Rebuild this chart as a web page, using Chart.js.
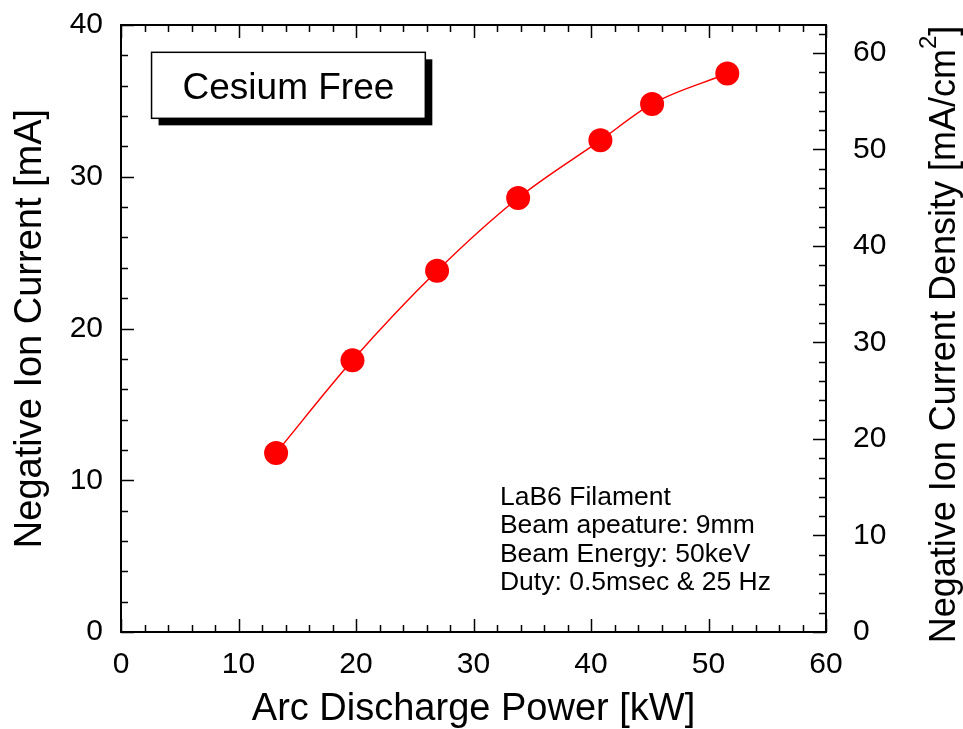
<!DOCTYPE html>
<html>
<head>
<meta charset="utf-8">
<script src="https://cdn.jsdelivr.net/npm/chart.js@4/dist/chart.umd.min.js"></script>
<style>
  html, body { margin: 0; padding: 0; background: #fff; }
  #wrap { width: 963px; height: 729px; position: relative; }
</style>
</head>
<body>
<div id="wrap"><canvas id="chart"></canvas></div>
<script>
// measured points: arc power [kW] vs negative ion current [mA]
const powerKW = [13.2, 19.7, 26.9, 33.8, 40.8, 45.2, 51.6];
const currentMA = [11.8, 17.9, 23.8, 28.6, 32.4, 34.8, 36.8];

const xTicks = [0, 10, 20, 30, 40, 50, 60];
const yTicks = [0, 10, 20, 30, 40];
const yRightTicks = [0, 10, 20, 30, 40, 50, 60];
const yRightMax = 62.9; // 40 mA over 9mm aperture area

const noteLines = ['LaB6 Filament', 'Beam apeature: 9mm', 'Beam Energy: 50keV', 'Duty: 0.5msec & 25 Hz'];

const FONT = "'Liberation Sans', Arial, Helvetica, sans-serif";
const RED = '#ff0000';

const setTicks = (vals) => (scale) => { scale.ticks = vals.map((v) => ({ value: v })); };
// fixed box size, no extra label overhang padding
const fitBox = (w, h) => (s) => {
  if (w != null) s.width = w;
  if (h != null) s.height = h;
  s.paddingTop = 0; s.paddingBottom = 0; s.paddingLeft = 0; s.paddingRight = 0;
};

const framePlugin = {
  id: 'frame',
  afterDraw(chart) {
    const { ctx, chartArea: a, scales } = chart;
    const x = scales.x, y = scales.y, yR = scales.yR;
    ctx.save();
    ctx.strokeStyle = '#000';
    ctx.lineWidth = 1.5;
    ctx.beginPath();
    // x ticks, bottom and top, pointing inward
    for (let v = 0; v <= 60; v += 2) {
      const px = Math.round(x.getPixelForValue(v)) + 0.5;
      const len = v % 10 === 0 ? 13 : 7;
      ctx.moveTo(px, a.bottom); ctx.lineTo(px, a.bottom - len);
      ctx.moveTo(px, a.top); ctx.lineTo(px, a.top + len);
    }
    for (let v = 0; v <= 40; v += 2) {
      const py = Math.round(y.getPixelForValue(v)) + 0.5;
      const len = v % 10 === 0 ? 13 : 7;
      ctx.moveTo(a.left, py); ctx.lineTo(a.left + len, py);
    }
    for (let v = 0; v <= yRightMax; v += 2) {
      const py = Math.round(yR.getPixelForValue(v)) + 0.5;
      const len = v % 10 === 0 ? 13 : 7;
      ctx.moveTo(a.right, py); ctx.lineTo(a.right - len, py);
    }
    ctx.stroke();

    ctx.lineWidth = 2;
    ctx.strokeRect(a.left, a.top, a.right - a.left, a.bottom - a.top);

    // "Cesium Free" label box with drop shadow
    const bx0 = x.getPixelForValue(2.6), bx1 = x.getPixelForValue(25.9);
    const by0 = y.getPixelForValue(38.2), by1 = y.getPixelForValue(33.85);
    ctx.fillStyle = '#000';
    ctx.fillRect(bx0 + 7, by0 + 7, bx1 - bx0, by1 - by0);
    ctx.fillStyle = '#fff';
    ctx.fillRect(bx0, by0, bx1 - bx0, by1 - by0);
    ctx.lineWidth = 1.5;
    ctx.strokeRect(bx0, by0, bx1 - bx0, by1 - by0);
    ctx.fillStyle = '#000';
    ctx.font = '37px ' + FONT;
    ctx.textAlign = 'center';
    ctx.textBaseline = 'middle';
    ctx.fillText('Cesium Free', (bx0 + bx1) / 2, (by0 + by1) / 2 + 3);

    // conditions note
    ctx.font = '26.5px ' + FONT;
    ctx.textAlign = 'left';
    const nx = x.getPixelForValue(32.25);
    const ny = y.getPixelForValue(8.85);
    noteLines.forEach((t, i) => ctx.fillText(t, nx, ny + i * 28.3));

    // right axis title with superscript
    ctx.save();
    ctx.translate(955, (a.top + a.bottom) / 2 + 6);
    ctx.rotate(-Math.PI / 2);
    const main = 'Negative Ion Current Density [mA/cm';
    ctx.font = '36px ' + FONT;
    const wMain = ctx.measureText(main).width;
    ctx.font = '24px ' + FONT;
    const wSup = ctx.measureText('2').width;
    ctx.font = '36px ' + FONT;
    const wEnd = ctx.measureText(']').width;
    let sx = -(wMain + wSup + wEnd) / 2;
    ctx.textAlign = 'left';
    ctx.textBaseline = 'alphabetic';
    ctx.fillText(main, sx, 0);
    sx += wMain;
    ctx.font = '24px ' + FONT;
    ctx.fillText('2', sx, -19);
    sx += wSup;
    ctx.font = '36px ' + FONT;
    ctx.fillText(']', sx, 0);
    ctx.restore();

    ctx.restore();
  }
};

new Chart(document.getElementById('chart'), {
  type: 'line',
  data: {
    datasets: [{
      data: powerKW.map((p, i) => ({ x: p, y: currentMA[i] })),
      borderColor: RED,
      backgroundColor: RED,
      borderWidth: 1.5,
      pointRadius: 12,
      pointBackgroundColor: RED,
      pointBorderWidth: 0,
      cubicInterpolationMode: 'monotone',
      yAxisID: 'y',
      clip: false
    }]
  },
  options: {
    responsive: true,
    maintainAspectRatio: false,
    animation: false,
    devicePixelRatio: 1,
    layout: { padding: { top: 25, left: 0, right: 0, bottom: 0 } },
    plugins: { legend: { display: false }, tooltip: { enabled: false } },
    scales: {
      x: {
        type: 'linear', position: 'bottom', min: 0, max: 60,
        afterBuildTicks: setTicks(xTicks),
        afterFit: fitBox(null, 97),
        grid: { display: false, drawTicks: false },
        border: { display: false },
        ticks: { color: '#000', padding: 15, maxRotation: 0, font: { family: FONT, size: 30 } },
        title: { display: true, text: 'Arc Discharge Power [kW]', color: '#000',
                 padding: { top: 0, bottom: 0 }, font: { family: FONT, size: 38, lineHeight: 1 } }
      },
      y: {
        type: 'linear', position: 'left', min: 0, max: 40,
        afterBuildTicks: setTicks(yTicks),
        afterFit: fitBox(121, null),
        grid: { display: false, drawTicks: false },
        border: { display: false },
        ticks: { color: '#000', padding: 18, font: { family: FONT, size: 30 } },
        title: { display: true, text: 'Negative Ion Current [mA]', color: '#000',
                 padding: { top: 12, bottom: 0 }, font: { family: FONT, size: 38, lineHeight: 1 } }
      },
      yR: {
        type: 'linear', position: 'right', min: 0, max: yRightMax,
        afterBuildTicks: setTicks(yRightTicks),
        afterFit: fitBox(137, null),
        grid: { display: false, drawTicks: false },
        border: { display: false },
        ticks: { color: '#000', padding: 27, font: { family: FONT, size: 30 } }
      }
    }
  },
  plugins: [framePlugin]
});
</script>
</body>
</html>
